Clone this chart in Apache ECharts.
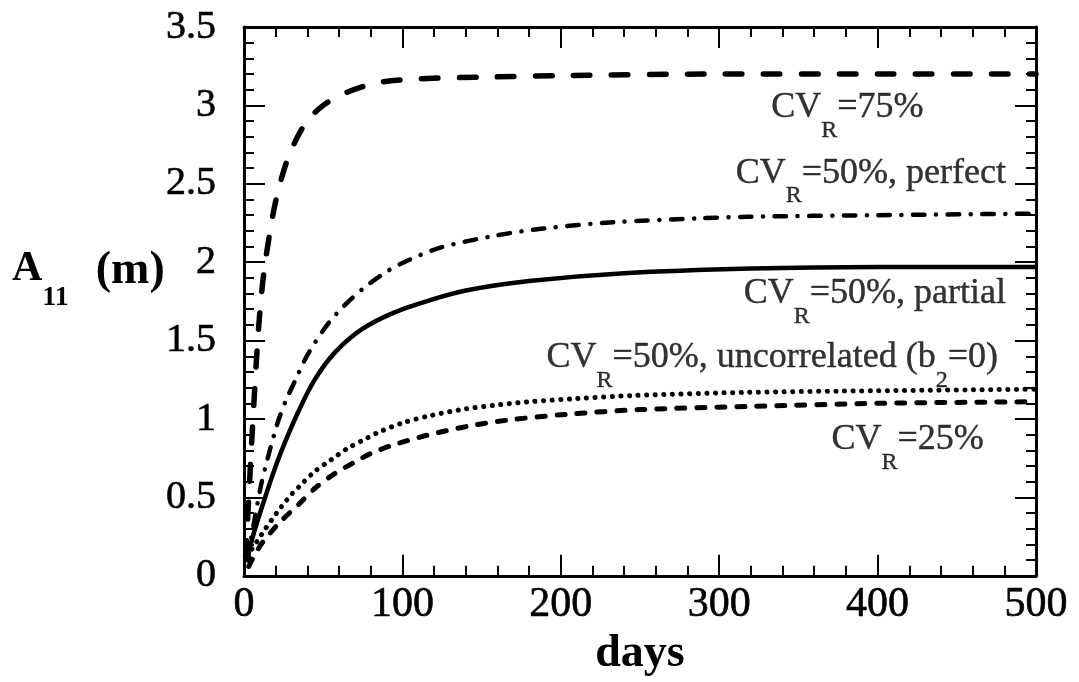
<!DOCTYPE html>
<html><head><meta charset="utf-8">
<script src="https://cdn.jsdelivr.net/npm/echarts@6/dist/echarts.min.js"></script>
<style>html,body{margin:0;padding:0;background:#fff}#c{width:1079px;height:682px}</style>
</head><body><div id="c"></div>
<script>
// ---- data (days, A11 in m) ----
const cv75 = [[1,0.12],[3,0.5],[5,0.88],[8,1.4],[10,1.68],[12.5,1.93],[16.5,2.2],[20.7,2.42],[28,2.67],[39,2.89],[50,3.0],[62,3.07],[75,3.12],[87,3.15],[111,3.17],[150,3.18],[200,3.19],[300,3.2],[400,3.2],[500,3.2]];
const cv50perfect = [[2,0.1],[4,0.21],[10.6,0.57],[14.7,0.74],[19,0.9],[22,1.0],[27,1.13],[33,1.26],[38,1.37],[45,1.49],[54,1.62],[63,1.72],[75,1.83],[87,1.92],[99,1.99],[123,2.09],[159,2.17],[189,2.215],[233,2.255],[288,2.28],[318,2.29],[400,2.3],[500,2.31]];
const cv50partial = [[2,0.1],[4,0.19],[7,0.3],[13,0.49],[19,0.67],[25,0.83],[34,1.04],[44,1.24],[57,1.42],[74,1.57],[95,1.68],[118,1.76],[140,1.82],[180,1.88],[240,1.93],[320,1.96],[400,1.97],[500,1.97]];
const cv50uncorr = [[3,0.12],[5,0.17],[9,0.23],[13.5,0.3],[17.7,0.36],[22,0.42],[26,0.47],[30,0.52],[35,0.57],[44,0.66],[55,0.74],[65,0.81],[78,0.88],[86,0.92],[100,0.975],[117,1.02],[140,1.065],[160,1.09],[180,1.11],[210,1.13],[246,1.15],[318,1.17],[400,1.18],[500,1.19]];
const cv25 = [[3,0.06],[5,0.1],[11.5,0.21],[23,0.345],[35,0.46],[45,0.56],[57,0.65],[69,0.72],[80,0.78],[94,0.834],[117,0.9],[142,0.955],[168,0.995],[204,1.03],[250,1.06],[320,1.08],[400,1.1],[500,1.11]];
const xTicks = [0,100,200,300,400,500];
const yTicks = [0,0.5,1,1.5,2,2.5,3,3.5];
const annotTexts = [
  '{m|CV}{s|R}{m|=75%}',
  '{m|CV}{s|R}{m|=50%, perfect}',
  '{m|CV}{s|R}{m|=50%, partial}',
  '{m|CV}{s|R}{m|=50%, uncorrelated (b}{s|2}{m|=0)}',
  '{m|CV}{s|R}{m|=25%}'
];
const xName = 'days';
const yNameText = '{a|A}{s|11}{p|(m)}';

// ---- layout / style ----
const annotPos = [[429,3.10],[481,2.683],[481,1.914],[476,1.504],[467,0.981]];
const FF = "'Liberation Serif','DejaVu Serif',serif";
const chart = echarts.init(document.getElementById('c'), null, {renderer:'canvas'});

function makeAxis(kind, show, pos) {
  const isX = kind === 'x';
  return {
    type: 'value',
    position: pos,
    min: 0, max: isX ? 500 : 3.5,
    interval: isX ? 100 : 0.5,
    axisLine: {show: true, onZero: false, lineStyle: {color: '#000', width: 3}},
    axisTick: {show: true, inside: true, length: 21, lineStyle: {color: '#000', width: 2}},
    minorTick: {show: true, splitNumber: 5, length: 10, lineStyle: {color: '#000', width: 2}},
    splitLine: {show: false},
    axisLabel: {
      show: show, color: '#000', fontFamily: FF,
      fontSize: isX ? 42 : 40,
      textBorderColor: '#000', textBorderWidth: 0.6,
      margin: isX ? 8 : 28
    }
  };
}
const xa = makeAxis('x', true, 'bottom');
xa.name = xName; xa.nameLocation = 'middle'; xa.nameGap = 50;
xa.nameTextStyle = {fontFamily: FF, fontSize: 46, fontWeight: 'bold', color: '#000', verticalAlign: 'top'};

function lineSeries(name, data, width, type) {
  return {
    name, type: 'line', data, xAxisIndex: 0, yAxisIndex: 0,
    showSymbol: false, smooth: 0.3,
    lineStyle: {color: '#000', width, type, cap: 'round', join: 'round'},
    emphasis: {disabled: true}, silent: true, z: 3
  };
}

const option = {
  animation: false,
  backgroundColor: '#fff',
  title: {
    text: yNameText, left: 12, top: 248, padding: 0,
    textStyle: {
      rich: {
        a: {fontFamily: FF, fontSize: 42, fontWeight: 'bold', color: '#000', lineHeight: 42, verticalAlign: 'top'},
        s: {fontFamily: FF, fontSize: 28, fontWeight: 'bold', color: '#000', lineHeight: 28, verticalAlign: 'top', padding: [36,0,0,0]},
        p: {fontFamily: FF, fontSize: 46, fontWeight: 'bold', color: '#000', lineHeight: 42, verticalAlign: 'top', padding: [0,0,0,27]}
      }
    }
  },
  grid: {left: 244, right: 43, top: 27, bottom: 99, containLabel: false},
  xAxis: [xa, makeAxis('x', false, 'top')],
  yAxis: [makeAxis('y', true, 'left'), makeAxis('y', false, 'right')],
  series: [
    lineSeries('CV_R=75%', cv75, 5.5, [16.5, 21.5]),
    lineSeries('CV_R=50%, perfect', cv50perfect, 4.5, [11.5, 11.5, 0.1, 11.5]),
    lineSeries('CV_R=50%, partial', cv50partial, 4.5, 'solid'),
    lineSeries('CV_R=50%, uncorrelated', cv50uncorr, 5, [0.1, 8.5]),
    lineSeries('CV_R=25%', cv25, 5, [8, 12]),
    {
      name: 'annotations', type: 'scatter', xAxisIndex: 0, yAxisIndex: 0,
      symbolSize: 0, silent: true,
      data: annotPos.map((p, i) => ({
        value: p,
        label: {formatter: annotTexts[i]}
      })),
      label: {
        show: true, position: [0, 0], align: 'right', verticalAlign: 'top',
        rich: {
          m: {fontFamily: FF, fontSize: 36, color: '#000', lineHeight: 36, verticalAlign: 'top', textBorderColor: '#000', textBorderWidth: 0.4},
          s: {fontFamily: FF, fontSize: 24, color: '#000', lineHeight: 24, verticalAlign: 'top', padding: [29,0,0,0], textBorderColor: '#000', textBorderWidth: 0.4}
        }
      },
      z: 5
    }
  ]
};
chart.setOption(option);
</script></body></html>
